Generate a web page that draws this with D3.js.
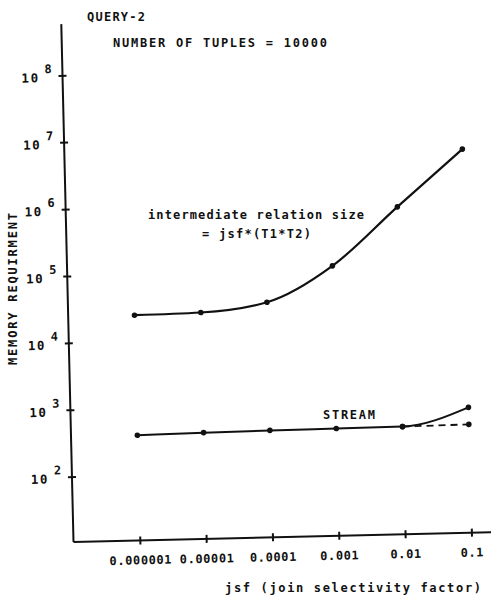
<!DOCTYPE html>
<html>
<head>
<meta charset="utf-8">
<script src="https://cdn.jsdelivr.net/npm/d3@7"></script>
<style>
body { margin: 0; background: #fff; }
text { font-family: "DejaVu Sans Mono", "Liberation Mono", monospace; font-weight: bold; fill: #111; }
</style>
</head>
<body>
<div id="chart"></div>
<script>
// jsf values on the x axis and their printed labels
const jsfValues = [1e-6, 1e-5, 1e-4, 1e-3, 1e-2, 1e-1];
const jsfLabels = ['0.000001', '0.00001', '0.0001', '0.001', '0.01', '0.1'];

// memory requirement
const intermediateSize = [2.5e4, 2.6e4, 3.5e4, 1.16e5, 8.4e5, 5.8e6];
const streamMemory = [400, 415, 425, 430, 435, 800];
// dashed branch of STREAM between 0.01 and 0.1
const streamDashedJsf = [1e-2, 1e-1];
const streamDashed = [435, 445];

// powers of ten shown on the y axis
const yTickPowers = [2, 3, 4, 5, 6, 7, 8];

const width = 491, height = 597;

const svg = d3.select('#chart').append('svg')
  .attr('width', width).attr('height', height)
  .attr('viewBox', `0 0 ${width} ${height}`);

// the scanned figure sits a little crooked, so the plot is turned slightly
const plot = svg.append('g')
  .attr('transform', 'translate(73.5,542) rotate(-1.35)');

const x = d3.scaleLog().domain([1e-7, 1e-1]).range([0, 398]);
const y = d3.scaleLog().domain([10, 1e9]).range([2, 2 - 66.9 * 8]);

// axis lines
plot.append('line').attr('x1', 0).attr('y1', 0).attr('x2', 0).attr('y2', -518)
  .attr('stroke', '#111').attr('stroke-width', 2);
plot.append('line').attr('x1', 0).attr('y1', 0).attr('x2', 440).attr('y2', 0)
  .attr('stroke', '#111').attr('stroke-width', 2);

// x ticks (crosses through the axis) and labels
const xAxis = d3.axisBottom(x)
  .tickValues(jsfValues)
  .tickFormat((d, i) => jsfLabels[i])
  .tickSize(4)
  .tickPadding(0);
const gx = plot.append('g').call(xAxis);
gx.select('.domain').remove();
gx.selectAll('.tick line').attr('y1', -4).attr('y2', 4)
  .attr('stroke', '#111').attr('stroke-width', 2);
gx.selectAll('.tick text')
  .attr('y', 24).attr('dy', null)
  .attr('font-size', 12).attr('letter-spacing', 0.6)
  .attr('font-family', null).attr('fill', '#111');
gx.attr('font-family', null).attr('font-size', null);

// y ticks with 10^n labels
const yt = plot.append('g').selectAll('g').data(yTickPowers).enter()
  .append('g').attr('transform', d => `translate(0,${y(Math.pow(10, d))})`);
yt.append('line').attr('x1', -4).attr('x2', 4)
  .attr('stroke', '#111').attr('stroke-width', 2);
yt.append('text').attr('x', -23).attr('y', 6)
  .attr('text-anchor', 'end').attr('font-size', 12.5).attr('letter-spacing', 1.5)
  .text('10');
yt.append('text').attr('x', -18).attr('y', -3)
  .attr('font-size', 12).text(d => d);

// curves
const line = d3.line()
  .x(d => x(d[0]))
  .y(d => y(d[1]))
  .curve(d3.curveMonotoneX);

const upper = jsfValues.map((j, i) => [j, intermediateSize[i]]);
const stream = jsfValues.map((j, i) => [j, streamMemory[i]]);
const dashed = streamDashedJsf.map((j, i) => [j, streamDashed[i]]);

plot.append('path').datum(upper).attr('d', line)
  .attr('fill', 'none').attr('stroke', '#111').attr('stroke-width', 2.2);
plot.append('path').datum(stream).attr('d', line)
  .attr('fill', 'none').attr('stroke', '#111').attr('stroke-width', 2);
plot.append('path').datum(dashed).attr('d', line)
  .attr('fill', 'none').attr('stroke', '#111').attr('stroke-width', 1.8)
  .attr('stroke-dasharray', '7,5');

plot.append('g').selectAll('circle').data(upper.concat(stream, dashed)).enter()
  .append('circle')
  .attr('cx', d => x(d[0])).attr('cy', d => y(d[1]))
  .attr('r', 2.8).attr('fill', '#111');

// annotations
const notes = [
  { t: 'QUERY-2', x: 87, y: 21, len: 58 },
  { t: 'NUMBER OF TUPLES = 10000', x: 113, y: 47, len: 214 },
  { t: 'intermediate relation size', x: 148, y: 219, len: 216 },
  { t: '= jsf*(T1*T2)', x: 202, y: 238, len: 109 },
  { t: 'STREAM', x: 323, y: 419, len: 52 },
  { t: 'jsf (join selectivity factor)', x: 225, y: 592, len: 256 }
];
svg.append('g').selectAll('text').data(notes).enter().append('text')
  .attr('x', d => d.x).attr('y', d => d.y)
  .attr('font-size', 12)
  .attr('textLength', d => d.len).attr('lengthAdjust', 'spacing')
  .text(d => d.t);

svg.append('text')
  .attr('transform', 'translate(17,289) rotate(-90)')
  .attr('text-anchor', 'middle')
  .attr('font-size', 12)
  .attr('textLength', 152).attr('lengthAdjust', 'spacing')
  .text('MEMORY REQUIRMENT');
</script>
</body>
</html>
